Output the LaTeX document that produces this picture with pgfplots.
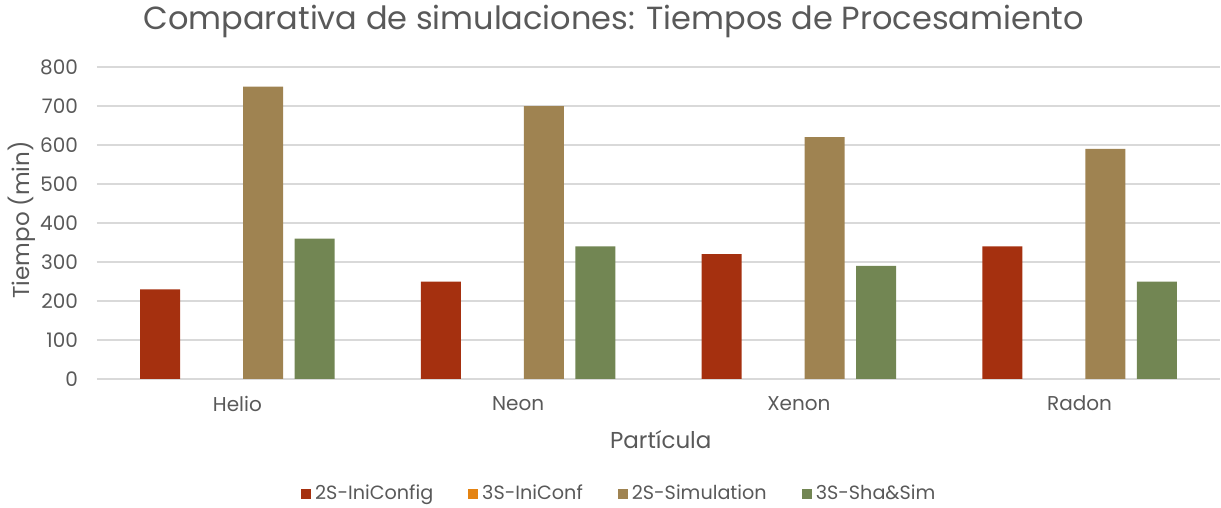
\documentclass[border=0pt]{standalone}
\usepackage{pgfplots}
\pgfplotsset{compat=1.18}
\usepackage{fontspec}
\setmainfont{Poppins}
\definecolor{txt}{HTML}{595959}
\definecolor{grd}{HTML}{D9D9D9}
\definecolor{cA}{HTML}{A5300F}
\definecolor{cB}{HTML}{E48312}
\definecolor{cC}{HTML}{9F8351}
\definecolor{cD}{HTML}{728653}
\begin{document}
\begin{tikzpicture}
\useasboundingbox (-48.5pt,-64.5pt) rectangle (562pt,189.5pt);
\begin{axis}[
  scale only axis,
  width=561.5pt, height=156pt,
  xmin=-0.5, xmax=3.5, ymin=0, ymax=800,
  ybar=5.75pt, bar width=20pt,
  xtick={0,1,2,3},
  xticklabels={Helio,Neon,Xenon,Radon},
  ytick={0,100,...,800},
  major tick length=0pt,
  ymajorgrids, grid style={grd, line width=1pt},
  axis x line*=bottom,
  axis y line*=left,
  x axis line style={grd, line width=1pt, -},
  y axis line style={draw=none},
  tick label style={font=\fontsize{10}{12}\selectfont, text=txt},
  xticklabel style={yshift=-5pt},
  yticklabel style={xshift=-6pt},
  /pgf/number format/assume math mode=true,
  title={Comparativa de simulaciones: Tiempos de Procesamiento},
  title style={at={(rel axis cs:0.46,1.106)}, anchor=center, font=\fontsize{16}{19}\selectfont, text=txt},
  xlabel={Partícula},
  xlabel style={at={(rel axis cs:0.502,-0.1955)}, anchor=center, font=\fontsize{11.5}{13}\selectfont, text=txt},
  ylabel={Tiempo (min)},
  ylabel style={at={(rel axis cs:-0.0668,0.51)}, anchor=center, rotate=0, font=\fontsize{11.5}{13}\selectfont, text=txt},
  legend columns=4,
  legend style={at={(rel axis cs:0.466,-0.369)}, anchor=center, draw=none, fill=none,
    font=\fontsize{9.6}{11}\selectfont, text=txt,
    /tikz/every even column/.append style={column sep=15.5pt}},
  legend image code/.code={\path[#1,draw=none] (0pt,-2.5pt) rectangle (5pt,2.5pt);},
]
\addplot[fill=cA, draw=none] coordinates {(0,230) (1,250) (2,320) (3,340)};
\addplot[fill=none, draw=none, legend image code/.code={\fill[cB] (0pt,-2.5pt) rectangle (5pt,2.5pt);}] coordinates {(0,0) (1,0) (2,0) (3,0)};
\addplot[fill=cC, draw=none] coordinates {(0,750) (1,700) (2,620) (3,590)};
\addplot[fill=cD, draw=none] coordinates {(0,360) (1,340) (2,290) (3,250)};
\legend{2S-IniConfig,3S-IniConf,2S-Simulation,3S-Sha\&Sim}
\end{axis}
\end{tikzpicture}
\end{document}
